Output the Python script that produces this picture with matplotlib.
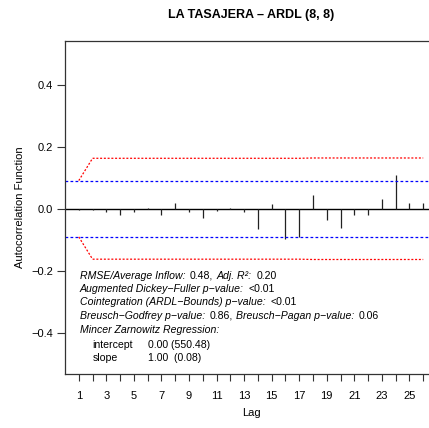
import matplotlib
matplotlib.use('Agg')
import matplotlib.pyplot as plt

plt.rcParams['font.family'] = ['Liberation Sans', 'DejaVu Sans']

title = 'LA TASAJERA \u2013 ARDL (8, 8)'
lags = list(range(1, 27))
acf_values = [-0.003, -0.005, -0.009, -0.020, -0.012, 0.003, -0.020, 0.018,
              -0.010, -0.031, -0.007, 0.004, -0.011, -0.065, 0.015, -0.099,
              -0.091, 0.043, -0.037, -0.062, -0.019, -0.020, 0.033, 0.108,
              0.017, 0.017]
white_noise_bound = 0.091
red_bound = [0.091, 0.163, 0.163, 0.163, 0.163, 0.163, 0.163, 0.163, 0.163,
             0.163, 0.163, 0.163, 0.163, 0.163, 0.163, 0.163, 0.163, 0.164,
             0.164, 0.164, 0.164, 0.164, 0.164, 0.164, 0.164, 0.164]
ytick_values = [-0.4, -0.2, 0.0, 0.2, 0.4]

M = '\u2212'
stats_lines = [
    [('RMSE/Average Inflow:', 'italic'), ('0.48,', 'normal'),
     ('Adj. R\u00b2:', 'italic'), ('0.20', 'normal')],
    [(f'Augmented Dickey{M}Fuller p{M}value:', 'italic'), ('<0.01', 'normal')],
    [(f'Cointegration (ARDL{M}Bounds) p{M}value:', 'italic'), ('<0.01', 'normal')],
    [(f'Breusch{M}Godfrey p{M}value:', 'italic'), ('0.86,', 'normal'),
     (f'Breusch{M}Pagan p{M}value:', 'italic'), ('0.06', 'normal')],
    [('Mincer Zarnowitz Regression:', 'italic')],
]
mz_rows = [('intercept', '0.00 (550.48)'), ('slope', '1.00  (0.08)')]

W, H = 429, 428
fig = plt.figure(figsize=(W / 100, H / 100), dpi=100)
ax = fig.add_axes([65 / W, 1 - 374 / H, 372 / W, 333 / H])

edge = '#333333'
ax.set_xlim(0, 27)
ax.set_ylim(-0.534, 0.542)

ax.axhline(0, color='black', lw=1.0)
ax.vlines(lags, 0, acf_values, color='#222222', lw=0.9)

for sign in (1, -1):
    bl = ax.axhline(sign * white_noise_bound, color='blue', lw=0.9)
    bl.set_dashes((2.2, 1.8))
    rl, = ax.plot(lags, [sign * v for v in red_bound], color='red', lw=0.9)
    rl.set_dashes((1.6, 1.4))

for s in ax.spines.values():
    s.set_color(edge)
    s.set_linewidth(0.9)

ax.set_xticks(lags)
ax.set_xticklabels([str(l) if l % 2 == 1 else '' for l in lags], fontsize=8)
ax.set_yticks(ytick_values)
ax.set_yticklabels([f'{v:.1f}'.replace('-', M) for v in ytick_values], fontsize=8)
ax.tick_params(axis='x', length=5, width=0.8, color=edge, pad=7)
ax.tick_params(axis='y', length=5.5, width=0.8, color=edge, pad=3)

fig.text(251 / W, 1 - 15 / H, title, ha='center', va='center',
         fontsize=9, fontweight='bold')
fig.text(251 / W, 1 - 413 / H, 'Lag', ha='center', va='center', fontsize=8)
fig.text(20 / W, 1 - 207 / H, 'Autocorrelation Function', ha='center',
         va='center', rotation=90, fontsize=8)

# statistics block: italic labels and upright values placed one after another
fs = 7.6
renderer = fig.canvas.get_renderer()
space_px = 0.278 * fs * 100 / 72
x0 = 79.5
y_centers = [276, 288.8, 302.3, 316, 330]
for parts, yc in zip(stats_lines, y_centers):
    x = x0
    for txt, style in parts:
        t = fig.text(x / W, 1 - yc / H, txt, style=style, fontsize=fs,
                     ha='left', va='center')
        width = t.get_window_extent(renderer).width
        gap = 1.7 * space_px if style == 'italic' else space_px
        x += width + gap

for (name, val), yc in zip(mz_rows, [344.5, 358.3]):
    fig.text(92.5 / W, 1 - yc / H, name, fontsize=fs, ha='left', va='center')
    fig.text(148 / W, 1 - yc / H, val, fontsize=fs, ha='left', va='center')

fig.savefig('out.png', dpi=100)
